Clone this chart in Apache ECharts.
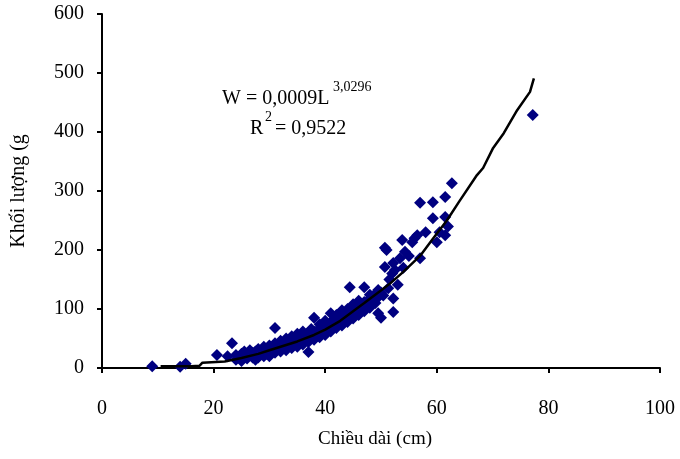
<!DOCTYPE html>
<html>
<head>
<meta charset="utf-8">
<script src="https://cdn.jsdelivr.net/npm/echarts@6/dist/echarts.min.js"></script>
<style>
html,body{margin:0;padding:0;background:#fff;}
#main{width:680px;height:459px;}
</style>
</head>
<body>
<div id="main"></div>
<script>
// du lieu doc tu hinh: chieu dai (cm), khoi luong (g)
var lengthCm = [9,14,15,20.6,22.5,23.3,
	24,24,24.5,25,25,25.5,25.5,26,26,26.5,26.5,27,27,27.5,27.5,28,28,28,28.5,29,29,29,29.5,
	30,30,30,30.5,31,31,31,31.5,32,32,32,32.5,33,33,33,33.5,34,34,34,34.5,35,35,35,35.5,
	36,36,36,36.5,37,37,37,37.5,37.5,38,38,38,38.5,39,39,39,39.5,40,40,40,40.5,41,41,41,41.5,
	42,42,42,42.5,43,43,43,43.5,44,44,44,44.4,44.5,45,45,45,45.5,46,46,46,46.5,47,47,47,47.5,
	48,48,48,48.5,49,49,49.5,49.5,49.5,50,50,50.4,51.3,52.2,52.2,
	50.7,50.7,51,51.5,52,52.2,52.5,53,53.4,53.8,54,54.3,55,55.6,56,56.5,57,57,58,59.3,59.3,
	60,60.5,61.5,61.5,61.5,62,62.7,77.2];
var weightG = [3,2,7,22,20,42,
	14,22,18,12,24,20,28,16,24,22,30,18,26,14,28,22,32,18,26,20,30,36,24,
	28,38,20,32,26,42,68,34,28,40,46,36,30,44,50,38,34,48,54,42,36,52,58,46,
	40,56,62,50,44,60,27,54,66,48,62,85,58,52,68,74,62,56,72,80,66,62,78,93,72,
	68,84,90,78,72,88,98,82,78,94,100,137,88,84,100,108,96,90,106,114,102,96,112,137,108,
	102,118,124,114,110,126,93,120,132,85,128,123,135,95,118,
	171,204,200,150,160,178,166,141,186,217,170,197,190,213,220,225,186,280,230,254,281,
	213,230,225,256,290,240,313,429];

// duong xu huong (doc tu hinh)
var curveL = [10.5,16,17.5,18,22,25,28,30,32,35,38,40,42.7,45,47,49.8,51.6,54,57,59.3,61.8,64,67.2,68.3,70.1,72,74.4,76.7,77.4];
var curveW = [3,3,4,9,11,17,24,30,36,45,56,65,80,96,110,130,143,163,190,219,250,282,327,339,373,398,437,468,491];

var xTicks = [0,20,40,60,80,100];
var yTicks = [0,100,200,300,400,500,600];

var scatterData = [];
for (var i = 0; i < lengthCm.length; i++) {
	scatterData.push([lengthCm[i], weightG[i]]);
}
var curveData = [];
for (var j = 0; j < curveL.length; j++) {
	curveData.push([curveL[j], curveW[j]]);
}

var chart = echarts.init(document.getElementById('main'));
var serif = '"Liberation Serif", "DejaVu Serif", serif';

var option = {
	backgroundColor: '#ffffff',
	animation: false,
	grid: {left: 102, right: 20, top: 14, bottom: 91},
	xAxis: {
		type: 'value',
		min: xTicks[0],
		max: xTicks[xTicks.length - 1],
		interval: 20,
		name: 'Chiều dài (cm)',
		nameLocation: 'middle',
		nameGap: 62,
		nameTextStyle: {fontFamily: serif, fontSize: 19, color: '#000', padding: [0, 12, 0, 0]},
		axisLine: {lineStyle: {color: '#000', width: 2}},
		axisTick: {inside: false, length: 5, lineStyle: {color: '#000', width: 2}},
		axisLabel: {fontFamily: serif, fontSize: 20, color: '#000', margin: 31},
		splitLine: {show: false}
	},
	yAxis: {
		type: 'value',
		min: yTicks[0],
		max: yTicks[yTicks.length - 1],
		interval: 100,
		name: 'Khối lượng (g',
		nameLocation: 'middle',
		nameGap: 73,
		nameTextStyle: {fontFamily: serif, fontSize: 20, color: '#000'},
		axisLine: {show: true, lineStyle: {color: '#000', width: 2}},
		axisTick: {show: true, inside: false, length: 5, lineStyle: {color: '#000', width: 2}},
		axisLabel: {fontFamily: serif, fontSize: 20, color: '#000', margin: 18},
		splitLine: {show: false}
	},
	series: [
		{
			name: 'data',
			type: 'scatter',
			symbol: 'diamond',
			symbolSize: 12,
			itemStyle: {color: '#000080', opacity: 1},
			data: scatterData,
			z: 2
		},
		{
			name: 'trend',
			type: 'line',
			showSymbol: false,
			symbol: 'none',
			lineStyle: {color: '#000', width: 2.5},
			data: curveData,
			z: 3
		}
	],
	graphic: [
		{type: 'text', left: 222, top: 89, style: {text: 'W = 0,0009L', font: '20px ' + serif, fill: '#000'}},
		{type: 'text', left: 333, top: 80, style: {text: '3,0296', font: '14px ' + serif, fill: '#000'}},
		{type: 'text', left: 250, top: 119, style: {text: 'R', font: '20px ' + serif, fill: '#000'}},
		{type: 'text', left: 265, top: 110, style: {text: '2', font: '14px ' + serif, fill: '#000'}},
		{type: 'text', left: 275, top: 119, style: {text: '= 0,9522', font: '20px ' + serif, fill: '#000'}}
	]
};

chart.setOption(option);
</script>
</body>
</html>
